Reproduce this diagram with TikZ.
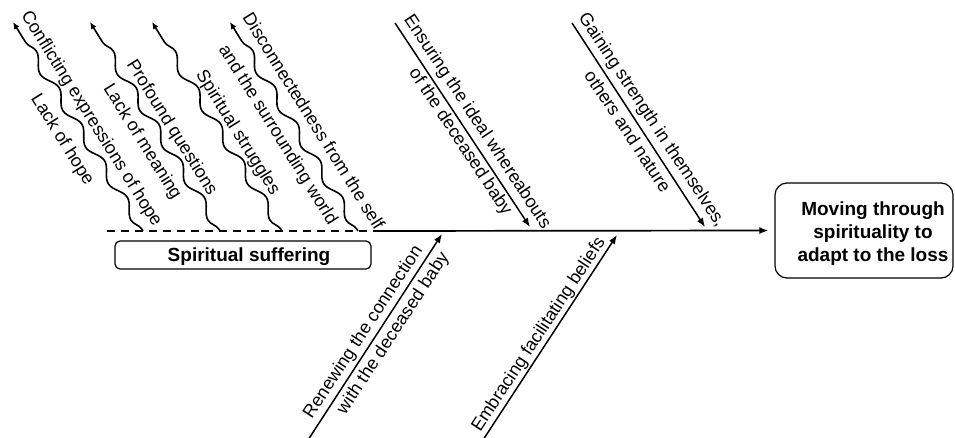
\documentclass[tikz,border=0pt]{standalone}
\usepackage{fontspec}
\setmainfont{Liberation Sans}
\usetikzlibrary{arrows.meta,decorations.pathmorphing}
\begin{document}
\begin{tikzpicture}[x=1pt,y=-1pt,
  lbl/.style={font=\fontsize{18}{21}\selectfont, inner sep=0pt},
  wlbl/.style={lbl, rotate=-58},
  dlbl/.style={lbl, rotate=-56.5},
  ulbl/.style={lbl, rotate=56.7},
  headtip/.style={-{Latex[length=9pt,width=7pt]}},
  wavy/.style={line width=1.6pt, -{Latex[length=7pt,width=6pt]}, decorate,
    decoration={snake, amplitude=4.5pt, segment length=43pt, pre length=2pt, post length=8pt}},
  arr/.style={line width=1.5pt, headtip},
  sbox/.style={draw, line width=1.2pt, inner sep=0pt},
  boxtxt/.style={font=\fontsize{19}{23}\selectfont\bfseries, align=center, inner sep=0pt}
]
\useasboundingbox (0,0) rectangle (955,438);

% boxes
\node[sbox, rounded corners=5pt, minimum width=256pt, minimum height=28pt] (ss) at (243,255) {};
\node[boxtxt] (sstxt) at (249,256.5) {Spiritual suffering};
\node[sbox, rounded corners=12pt, minimum width=178pt, minimum height=95pt] (goal) at (864,230.5) {};
\node[boxtxt] (goaltxt) at (873,234) {Moving through\\spirituality to\\adapt to the loss};

% spine
\coordinate (spL) at (107,231);
\coordinate (spM) at (378,231);
\draw[line width=1.4pt, dash pattern=on 8pt off 6pt] (spL) -- (spM);
\draw[arr, line width=1.7pt] (spM) -- ([xshift=-6pt]goal.west);

% wavy arrows
\coordinate (w1b) at (143,231); \coordinate (w1t) at (13,22);
\coordinate (w2b) at (220,231); \coordinate (w2t) at (90,22);
\coordinate (w3b) at (282,231); \coordinate (w3t) at (152,22);
\coordinate (w4b) at (358,231); \coordinate (w4t) at (230,22);
\draw[wavy] (w1b) -- (w1t);
\draw[wavy] (w2b) -- (w2t);
\draw[wavy] (w3b) -- (w3t);
\draw[wavy] (w4b) -- (w4t);

\node[wlbl] (l1a) at (91,119) {Conflicting expressions of hope};
\node[wlbl] (l1b) at (62,140) {Lack of hope};
\node[wlbl] (l2b) at (142,142) {Lack of meaning};
\node[wlbl] (l2a) at (171.5,128) {Profound questions};
\node[wlbl] (l3a) at (237.5,133) {Spiritual struggles};
\node[wlbl] (l4a) at (314,121) {Disconnectedness from the self};
\node[wlbl] (l4b) at (277.5,135) {and the surrounding world};

% straight arrows (top)
\coordinate (e1s) at (395,23); \coordinate (e1t) at (530,227);
\coordinate (g1s) at (572,23); \coordinate (g1t) at (705,227);
\draw[arr] (e1s) -- (e1t);
\draw[arr] (g1s) -- (g1t);
\node[dlbl] (le1) at (477,122) {Ensuring the ideal whereabouts};
\node[dlbl] (le2) at (460,142) {of the deceased baby};
\node[dlbl] (lg1) at (651.5,120.5) {Gaining strength in themselves,};
\node[dlbl] (lg2) at (628,131) {others and nature};

% straight arrows (bottom)
\coordinate (r1s) at (308,440); \coordinate (r1t) at (442,234);
\coordinate (m1s) at (483,440); \coordinate (m1t) at (617,235);
\draw[arr] (r1s) -- (r1t);
\draw[arr] (m1s) -- (m1t);
\node[ulbl] (lr1) at (363.5,332.5) {Renewing the connection};
\node[ulbl] (lr2) at (393.5,333.5) {with the deceased baby};
\node[ulbl] (lm1) at (539,335) {Embracing facilitating beliefs};
\end{tikzpicture}
\end{document}
